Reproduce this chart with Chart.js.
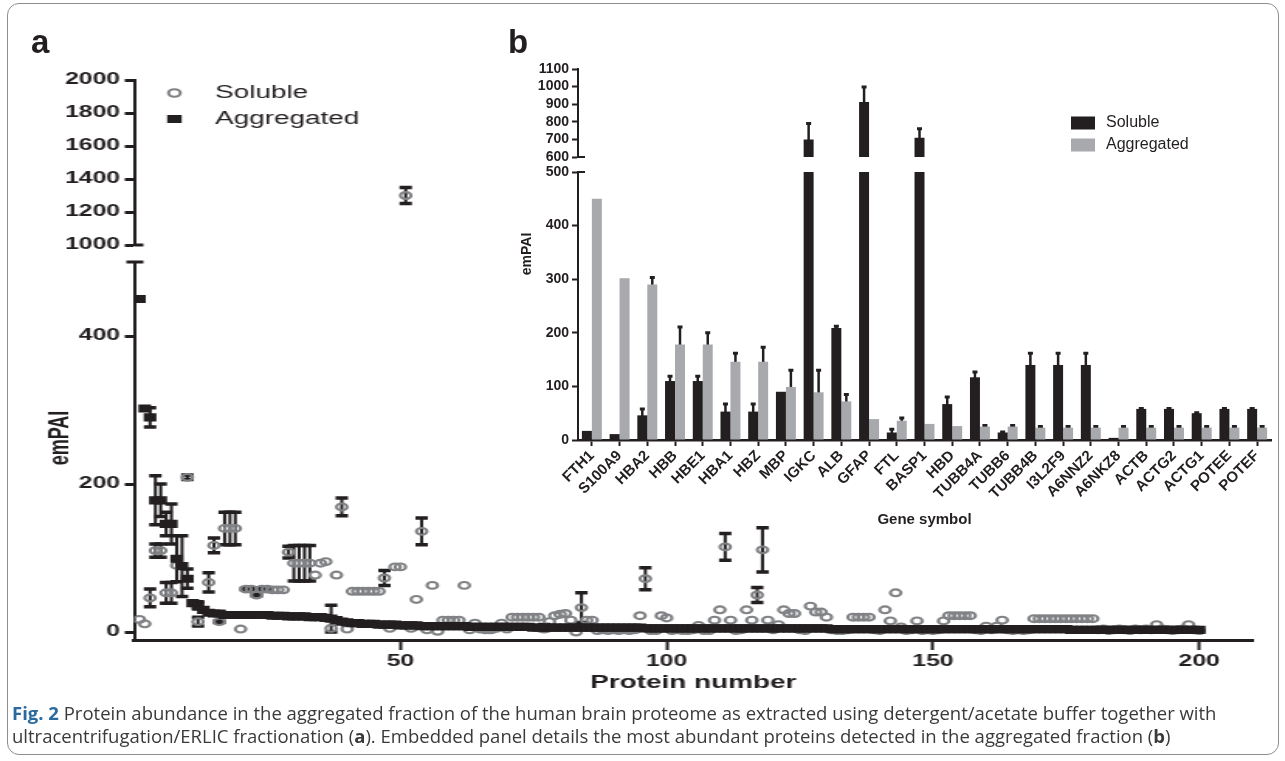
<!DOCTYPE html>
<html>
<head>
<meta charset="utf-8">
<title>Fig. 2</title>
<script src="https://cdn.jsdelivr.net/npm/chart.js@4.4.1/dist/chart.umd.min.js"></script>
<style>
  html, body { margin: 0; padding: 0; background: #fff; }
  #fig { position: relative; width: 1285px; height: 761px; overflow: hidden; }
  #fig canvas { position: absolute; left: 0; top: 0; }
  .frame { position: absolute; left: 7px; top: 3px; width: 1272px; height: 752px; box-sizing: border-box;
           border: 1.5px solid #8e8e8e; border-radius: 12px; }
  .panel { position: absolute; font: bold 33px "Liberation Sans", Arial, sans-serif; line-height: 33px; color: #231f20; }
  .caption { position: absolute; left: 12px; top: 701px; font: 18.5px "Open Sans", sans-serif; line-height: 23px;
             color: #3a3a3a; white-space: nowrap; }
  .caption .fig { color: #2a6a9e; font-weight: bold; }
</style>
</head>
<body>
<div id="fig">
  <div class="frame"></div>
  <!-- panel a is drawn narrow and stretched sideways, like the source figure -->
  <canvas id="aTop" width="829" height="761" style="width:1285px;height:761px"></canvas>
  <canvas id="aLow" width="829" height="761" style="width:1285px;height:761px"></canvas>
  <canvas id="bTop" width="1285" height="761" style="width:1285px;height:761px"></canvas>
  <canvas id="bLow" width="1285" height="761" style="width:1285px;height:761px"></canvas>
  <div class="panel" style="left:31px;top:25px">a</div>
  <div class="panel" style="left:508px;top:25px">b</div>
  <div class="caption"><span class="fig">Fig. 2</span> Protein abundance in the aggregated fraction of the human brain proteome as extracted using detergent/acetate buffer together with<br>ultracentrifugation/ERLIC fractionation (<b>a</b>). Embedded panel details the most abundant proteins detected in the aggregated fraction (<b>b</b>)</div>
</div>
<script>
// ---- panel a: emPAI per protein number (1..200) ----
const proteinSoluble = [
  17, 11, 46, 110, 110, 53, 53, 90, 700, 209,
  912, 14, 710, 67, 117, 14, 140, 140, 140, 4,
  58, 58, 50, 58, 58, 57, 57, 57, 108, 93,
  93, 93, 93, 77, 93, 95, 5, 77, 169, 4,
  55, 55, 55, 55, 55, 55, 73, 5, 88, 88,
  1300, 5, 44, 136, 3, 63, 1, 16, 16, 16,
  16, 63, 3, 12, 4, 3, 3, 5, 12, 4,
  20, 20, 20, 20, 20, 20, 4, 14, 22, 24,
  25, 16, 0, 33, 16, 16, 2, 3, 2, 3,
  2, 3, 2, 3, 22, 72, 2, 2, 22, 19,
  2, 3, 2, 2, 3, 9, 2, 2, 16, 30,
  115, 16, 2, 3, 30, 16, 50, 111, 16, 3,
  10, 30, 25, 25, 3, 2, 35, 27, 27, 20,
  3, 2, 2, 3, 20, 20, 20, 20, 3, 2,
  30, 15, 53, 7, 2, 3, 15, 2, 3, 2,
  3, 15, 22, 22, 22, 22, 22, 3, 2, 8,
  3, 8, 16, 3, 2, 3, 2, 3, 18, 18,
  18, 18, 18, 18, 18, 18, 18, 18, 18, 18,
  3, 4, 2, 3, 4, 3, 2, 4, 3, 4,
  3, 10, 4, 3, 2, 3, 4, 10, 3, 2
];
const proteinSolubleErr = [
  0, 0, 12, 9, 9, 14, 14, 0, 90, 3,
  86, 6, 50, 13, 10, 1, 22, 22, 22, 0,
  1, 1, 1, 1, 1, 0, 0, 0, 8, 24,
  24, 24, 24, 0, 0, 0, 0, 0, 12, 0,
  0, 0, 0, 0, 0, 0, 10, 0, 0, 0,
  48, 0, 0, 18, 0, 0, 0, 0, 0, 0,
  0, 0, 0, 0, 0, 0, 0, 0, 0, 0,
  0, 0, 0, 0, 0, 0, 0, 0, 0, 0,
  0, 0, 0, 20, 0, 0, 0, 0, 0, 0,
  0, 0, 0, 0, 0, 15, 0, 0, 0, 0,
  0, 0, 0, 0, 0, 0, 0, 0, 0, 0,
  18, 0, 0, 0, 0, 0, 10, 30, 0, 0,
  0, 0, 0, 0, 0, 0, 0, 0, 0, 0,
  0, 0, 0, 0, 0, 0, 0, 0, 0, 0,
  0, 0, 0, 0, 0, 0, 0, 0, 0, 0,
  0, 0, 0, 0, 0, 0, 0, 0, 0, 0,
  0, 0, 0, 0, 0, 0, 0, 0, 0, 0,
  0, 0, 0, 0, 0, 0, 0, 0, 0, 0,
  0, 0, 0, 0, 0, 0, 0, 0, 0, 0,
  0, 0, 0, 0, 0, 0, 0, 0, 0, 0
];
const proteinAggregated = [
  450, 302, 290, 178, 178, 146, 146, 99, 89, 72,
  39, 36, 30, 26, 25, 25, 23, 23, 23, 23,
  23, 23, 23, 23, 23, 22, 22, 22, 21, 21,
  21, 21, 20, 20, 20, 19, 18, 16, 14, 13,
  12, 12, 11, 11, 11, 10, 10, 10, 10, 9,
  9, 9, 9, 8, 8, 8, 8, 8, 8, 8,
  8, 8, 7, 7, 7, 7, 7, 7, 7, 7,
  7, 7, 7, 7, 6, 6, 6, 6, 6, 6,
  6, 6, 6, 6, 6, 6, 6, 6, 6, 6,
  6, 6, 6, 6, 6, 5, 5, 5, 5, 5,
  5, 5, 5, 5, 5, 5, 5, 5, 5, 5,
  5, 5, 5, 5, 5, 5, 5, 5, 5, 5,
  5, 5, 5, 5, 5, 5, 5, 5, 5, 5,
  4, 4, 4, 4, 4, 4, 4, 4, 4, 4,
  4, 4, 4, 4, 4, 4, 4, 4, 4, 4,
  4, 4, 4, 4, 4, 4, 4, 4, 4, 4,
  4, 4, 4, 4, 4, 4, 4, 4, 4, 4,
  4, 4, 4, 4, 4, 3, 3, 3, 3, 3,
  3, 3, 3, 3, 3, 3, 3, 3, 3, 3,
  3, 3, 3, 3, 3, 3, 3, 3, 3, 3
];
const proteinAggregatedErr = [
  0, 0, 13, 33, 22, 16, 27, 31, 41, 13,
  0, 5, 0, 0, 2, 2, 2, 2, 2, 2,
  2, 2, 2, 2, 2, 0, 0, 0, 0, 0,
  0, 0, 0, 0, 0, 0, 18, 0, 0, 0,
  0, 0, 0, 0, 0, 0, 0, 0, 0, 0,
  0, 0, 0, 0, 0, 0, 0, 0, 0, 0,
  0, 0, 0, 0, 0, 0, 0, 0, 0, 0,
  0, 0, 0, 0, 0, 0, 4, 0, 0, 0,
  0, 0, 0, 0, 0, 0, 0, 0, 0, 0,
  0, 0, 0, 0, 0, 0, 0, 0, 0, 0,
  0, 0, 0, 0, 0, 0, 0, 0, 0, 0,
  0, 0, 0, 0, 0, 0, 0, 0, 0, 0,
  0, 0, 0, 0, 0, 0, 0, 0, 0, 0,
  0, 0, 0, 0, 0, 0, 0, 0, 0, 0,
  0, 0, 0, 0, 0, 0, 0, 0, 0, 0,
  0, 0, 0, 0, 0, 0, 0, 0, 0, 0,
  0, 0, 0, 0, 0, 0, 0, 0, 0, 0,
  0, 0, 0, 0, 0, 0, 0, 0, 0, 0,
  0, 0, 0, 0, 0, 0, 0, 0, 0, 0,
  0, 0, 0, 0, 0, 0, 0, 0, 0, 0
];
const aTicksX = [50, 100, 150, 200];
const aTicksLow = [0, 200, 400];
const aTicksHigh = [1000, 1200, 1400, 1600, 1800, 2000];

// ---- panel b: most abundant proteins in the aggregated fraction ----
const genes = ["FTH1", "S100A9", "HBA2", "HBB", "HBE1", "HBA1", "HBZ", "MBP", "IGKC", "ALB", "GFAP", "FTL", "BASP1",
  "HBD", "TUBB4A", "TUBB6", "TUBB4B", "I3L2F9", "A6NNZ2", "A6NKZ8", "ACTB", "ACTG2", "ACTG1", "POTEE", "POTEF"];
const geneSoluble = [17, 11, 46, 110, 110, 53, 53, 90, 700, 209, 912, 14, 710, 67, 117, 14, 140, 140, 140, 4, 58, 58, 50, 58, 58];
const geneSolubleErr = [0, 0, 12, 9, 9, 14, 14, 0, 90, 3, 86, 6, 50, 13, 10, 1, 22, 22, 22, 0, 1, 1, 1, 1, 1];
const geneAggregated = [450, 302, 290, 178, 178, 146, 146, 99, 89, 72, 39, 36, 30, 26, 25, 25, 23, 23, 23, 23, 23, 23, 23, 23, 23];
const geneAggregatedErr = [0, 0, 13, 33, 22, 16, 27, 31, 41, 13, 0, 5, 0, 0, 2, 2, 2, 2, 2, 2, 2, 2, 2, 2, 2];
const bTicksLow = [0, 100, 200, 300, 400, 500];
const bTicksHigh = [600, 700, 800, 900, 1000, 1100];

const INK = "#231f20";
const FONT = "'Liberation Sans', Arial, sans-serif";
Chart.defaults.font.family = FONT;
Chart.defaults.color = INK;

// mean +/- SD bars, drawn under the marks
const errorBars = {
  id: "errorBars",
  beforeDatasetsDraw(chart, args, o) {
    const { ctx, chartArea: a, scales } = chart;
    const inside = py => py >= a.top && py <= a.bottom;
    ctx.save();
    ctx.beginPath();
    ctx.rect(a.left, a.top, a.right - a.left, a.bottom - a.top);
    ctx.clip();
    ctx.strokeStyle = INK;
    chart.data.datasets.forEach((ds, i) => {
      if (!ds.errors) return;
      const meta = chart.getDatasetMeta(i);
      const ys = scales[meta.yAxisID];
      meta.data.forEach((el, j) => {
        const e = ds.errors[j];
        if (!e) return;
        const v = meta.controller.getParsed(j).y;
        const top = ys.getPixelForValue(v + e);
        const bot = ys.getPixelForValue(v - e);
        const h = o.capWidth / 2;
        ctx.lineWidth = o.lineWidth;
        ctx.beginPath();
        ctx.moveTo(el.x, top);
        ctx.lineTo(el.x, bot);
        ctx.stroke();
        ctx.lineWidth = o.capLineWidth;
        ctx.beginPath();
        if (inside(top)) { ctx.moveTo(el.x - h, top); ctx.lineTo(el.x + h, top); }
        if (inside(bot)) { ctx.moveTo(el.x - h, bot); ctx.lineTo(el.x + h, bot); }
        ctx.stroke();
      });
    });
    ctx.restore();
  }
};

// little caps where the y axis is broken
const axisBreak = {
  id: "axisBreak",
  afterDraw(chart, args, o) {
    if (!o.marks) return;
    const y = chart.scales.y, ctx = chart.ctx;
    const ax = chart.chartArea.left;
    ctx.save();
    ctx.strokeStyle = INK;
    ctx.lineWidth = o.width;
    o.marks.forEach(m => {
      const py = y.getPixelForValue(m.value);
      ctx.beginPath();
      ctx.moveTo(ax - m.left, py);
      ctx.lineTo(ax + m.right, py);
      ctx.stroke();
    });
    ctx.restore();
  }
};

// stacked legend in the corner
const legendBox = {
  id: "legendBox",
  afterDraw(chart, args, o) {
    if (!o.x) return;
    const ctx = chart.ctx;
    ctx.save();
    ctx.font = o.textFont;
    ctx.textBaseline = "middle";
    chart.data.datasets.forEach((ds, i) => {
      const y = o.y + i * o.gap;
      if (ds.pointStyle === "circle") {
        ctx.beginPath();
        ctx.arc(o.x, y, o.radius, 0, Math.PI * 2);
        ctx.lineWidth = ds.pointBorderWidth;
        ctx.strokeStyle = ds.pointBorderColor;
        ctx.stroke();
      } else {
        ctx.fillStyle = ds.pointBackgroundColor || ds.backgroundColor;
        ctx.fillRect(o.x - o.boxW / 2, y - o.boxH / 2, o.boxW, o.boxH);
      }
      ctx.fillStyle = INK;
      ctx.fillText(ds.label, o.textX, y);
    });
    ctx.restore();
  }
};

// rotated y title placed by hand (it spans a broken axis)
const sideTitle = {
  id: "sideTitle",
  afterDraw(chart, args, o) {
    if (!o.caption) return;
    const ctx = chart.ctx;
    ctx.save();
    ctx.translate(o.cx, o.cy);
    ctx.rotate(-Math.PI / 2);
    ctx.font = o.textFont;
    ctx.fillStyle = INK;
    ctx.textAlign = "center";
    ctx.textBaseline = "middle";
    ctx.fillText(o.caption, 0, 0);
    ctx.restore();
  }
};

function aDatasets() {
  return [
    {
      label: "Soluble",
      data: proteinSoluble.map((v, i) => ({ x: i + 1, y: v })),
      errors: proteinSolubleErr,
      pointStyle: "circle", pointRadius: 3.4, pointBorderWidth: 2.1,
      pointBorderColor: "#808285", pointBackgroundColor: "rgba(0,0,0,0)",
      order: 1
    },
    {
      label: "Aggregated",
      data: proteinAggregated.map((v, i) => ({ x: i + 1, y: v })),
      errors: proteinAggregatedErr,
      pointStyle: "rect", pointRadius: 5.8, pointBorderWidth: 0,
      pointBackgroundColor: INK,
      order: 0
    }
  ];
}

function yAxisA(min, max, ticks) {
  return {
    type: "linear", min, max,
    afterBuildTicks: s => { s.ticks = ticks.map(v => ({ value: v })); },
    afterFit: s => { s.width = 86.5; },
    border: { display: true, width: 2, color: INK },
    grid: { drawOnChartArea: false, drawTicks: true, tickLength: 6, tickWidth: 3, tickColor: INK },
    ticks: { autoSkip: false, padding: 3, font: { size: 16, weight: "bold" }, color: INK, callback: v => String(v) }
  };
}

const common = { responsive: false, animation: false, devicePixelRatio: 1, events: [] };

// panel a, upper piece (1000-2000)
new Chart(document.getElementById("aTop"), {
  type: "scatter",
  data: { datasets: aDatasets() },
  options: {
    ...common,
    layout: { padding: { left: 0, right: 21, top: 80, bottom: 516 } },
    scales: {
      x: { type: "linear", min: 0, max: 210, display: false },
      y: yAxisA(1000, 2000, aTicksHigh)
    },
    plugins: {
      legend: { display: false }, tooltip: { enabled: false },
      errorBars: { lineWidth: 2, capWidth: 8, capLineWidth: 3.5 },
      axisBreak: { width: 3, marks: [{ value: 1000, left: 0, right: 6 }] },
      legendBox: { x: 112.5, y: 93, gap: 26, radius: 3.8, boxW: 9.4, boxH: 8, textX: 138.7, textFont: "18px " + FONT }
    }
  },
  plugins: [errorBars, axisBreak, legendBox]
});

// panel a, lower piece (0-500)
new Chart(document.getElementById("aLow"), {
  type: "scatter",
  data: { datasets: aDatasets() },
  options: {
    ...common,
    layout: { padding: { left: 0, right: 21, top: 262, bottom: 61 } },
    scales: {
      x: {
        type: "linear", min: 0, max: 210,
        afterBuildTicks: s => { s.ticks = aTicksX.map(v => ({ value: v })); },
        afterFit: s => { s.height = 60; },
        border: { display: true, width: 3, color: INK },
        grid: { drawOnChartArea: false, drawTicks: true, tickLength: 10, tickWidth: 2, tickColor: INK },
        ticks: { padding: 2, maxRotation: 0, font: { size: 16, weight: "bold" }, color: INK, callback: v => String(v) },
        title: { display: true, text: "Protein number", font: { size: 18, weight: "bold" }, color: INK, padding: { top: 0, bottom: 6 } }
      },
      y: yAxisA(-10.8, 500, aTicksLow)
    },
    plugins: {
      legend: { display: false }, tooltip: { enabled: false },
      errorBars: { lineWidth: 2, capWidth: 8, capLineWidth: 3.5 },
      axisBreak: { width: 3, marks: [{ value: 500, left: 5, right: 6 }] },
      sideTitle: { caption: "emPAI", cx: 39, cy: 438, textFont: "bold 18px " + FONT }
    }
  },
  plugins: [errorBars, axisBreak, sideTitle]
});

function bDatasets() {
  return [
    { label: "Soluble", data: geneSoluble, errors: geneSolubleErr, backgroundColor: INK, borderWidth: 0, clip: 0 },
    { label: "Aggregated", data: geneAggregated, errors: geneAggregatedErr, backgroundColor: "#a7a9ac", borderWidth: 0, clip: 0 }
  ];
}

function yAxisB(min, max, ticks) {
  return {
    type: "linear", min, max,
    afterBuildTicks: s => { s.ticks = ticks.map(v => ({ value: v })); },
    afterFit: s => { s.width = 578; },
    border: { display: true, width: 2, color: INK },
    grid: { drawOnChartArea: false, drawTicks: true, tickLength: 6, tickWidth: 2, tickColor: INK },
    ticks: { autoSkip: false, padding: 3, font: { size: 14, weight: "bold" }, color: INK, callback: v => String(v) }
  };
}

const barShape = { categoryPercentage: 0.72, barPercentage: 1 };

// panel b, upper piece (600-1100)
new Chart(document.getElementById("bTop"), {
  type: "bar",
  data: { labels: genes, datasets: bDatasets() },
  options: {
    ...common,
    datasets: { bar: barShape },
    layout: { padding: { left: 0, right: 14, top: 69, bottom: 604 } },
    scales: {
      x: { type: "category", offset: true, display: false },
      y: yAxisB(600, 1100, bTicksHigh)
    },
    plugins: {
      legend: { display: false }, tooltip: { enabled: false },
      errorBars: { lineWidth: 2.5, capWidth: 5, capLineWidth: 3 },
      axisBreak: { width: 2, marks: [{ value: 600, left: 0, right: 7 }] },
      legendBox: { x: 1083, y: 123, gap: 22, boxW: 24, boxH: 13, textX: 1106, textFont: "16px " + FONT }
    }
  },
  plugins: [errorBars, axisBreak, legendBox]
});

// panel b, lower piece (0-500)
new Chart(document.getElementById("bLow"), {
  type: "bar",
  data: { labels: genes, datasets: bDatasets() },
  options: {
    ...common,
    datasets: { bar: barShape },
    layout: { padding: { left: 0, right: 14, top: 172, bottom: 231 } },
    scales: {
      x: {
        type: "category", offset: true,
        afterFit: s => { s.height = 90; },
        border: { display: true, width: 2.5, color: INK },
        grid: { offset: false, drawOnChartArea: false, drawTicks: true, tickLength: 6, tickWidth: 2, tickColor: INK },
        ticks: { autoSkip: false, minRotation: 45, maxRotation: 45, padding: 1, font: { size: 15, weight: "bold" }, color: INK },
        title: { display: true, text: "Gene symbol", font: { size: 15, weight: "bold" }, color: INK, padding: { top: 0, bottom: 1 } }
      },
      y: yAxisB(0, 500, bTicksLow)
    },
    plugins: {
      legend: { display: false }, tooltip: { enabled: false },
      errorBars: { lineWidth: 2.5, capWidth: 5, capLineWidth: 3 },
      axisBreak: { width: 2, marks: [{ value: 500, left: 0, right: 7 }] },
      sideTitle: { caption: "emPAI", cx: 527, cy: 254, textFont: "bold 14px " + FONT }
    }
  },
  plugins: [errorBars, axisBreak, sideTitle]
});
</script>
</body>
</html>
